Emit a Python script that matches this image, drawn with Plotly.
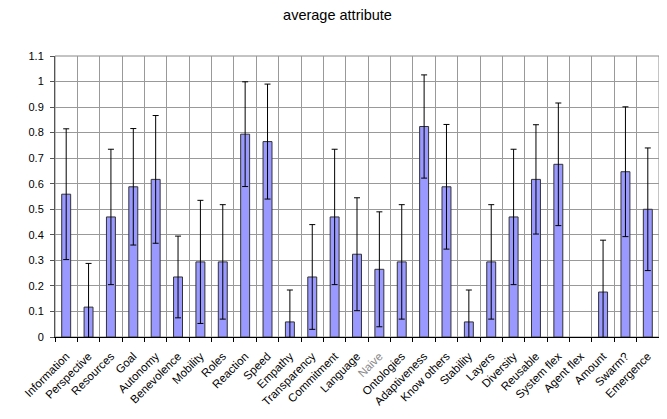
import plotly.graph_objects as go

categories = ["Information", "Perspective", "Resources", "Goal", "Autonomy", "Benevolence",
              "Mobility", "Roles", "Reaction", "Speed", "Empathy", "Transparency",
              "Commitment", "Language", "Naive", "Ontologies", "Adaptiveness", "Know others",
              "Stability", "Layers", "Diversity", "Reusable", "System flex", "Agent flex",
              "Amount", "Swarm?", "Emergence"]

averages = [0.559, 0.117, 0.470, 0.588, 0.617, 0.235, 0.294, 0.294, 0.794, 0.765, 0.059,
            0.235, 0.470, 0.324, 0.265, 0.294, 0.824, 0.588, 0.059, 0.294, 0.470, 0.617,
            0.676, None, 0.176, 0.647, 0.500]

errors = [0.256, 0.171, 0.265, 0.228, 0.250, 0.160, 0.241, 0.224, 0.205, 0.225, 0.125,
          0.205, 0.265, 0.221, 0.225, 0.224, 0.202, 0.244, 0.125, 0.224, 0.265, 0.214,
          0.240, None, 0.203, 0.254, 0.240]

y_ticks = [0, 0.1, 0.2, 0.3, 0.4, 0.5, 0.6, 0.7, 0.8, 0.9, 1, 1.1]
y_tick_labels = ["0", "0.1", "0.2", "0.3", "0.4", "0.5", "0.6", "0.7", "0.8", "0.9", "1", "1.1"]

tick_text = [('<span style="color:#8a8a8a">%s</span>' % c) if c == "Naive" else c for c in categories]

FONT = "Liberation Sans, Arial, sans-serif"

fig = go.Figure()
fig.add_trace(go.Bar(
    x=categories,
    y=averages,
    width=0.4,
    marker=dict(color="#9999FF", line=dict(color="#333333", width=1)),
    error_y=dict(type="data", array=errors, visible=True, color="#000000",
                 thickness=1, width=3),
))

# page body has an 8px default margin, so the figure is sized to fit the window
fig.update_layout(
    width=659, height=411,
    margin=dict(l=47, r=8, t=48, b=82, autoexpand=False),
    paper_bgcolor="white", plot_bgcolor="white",
    title=dict(text="average attribute", x=0.5, xanchor="center",
               y=1 - 1.5 / 411, yanchor="top",
               font=dict(family=FONT, size=14.5, color="#000000")),
    font=dict(family=FONT, size=11, color="#000000"),
    showlegend=False,
    bargap=0.6,
)

fig.update_xaxes(
    type="category",
    tickmode="array", tickvals=categories, ticktext=tick_text,
    tickangle=-45,
    tickson="boundaries",
    ticks="outside", ticklen=4, tickcolor="#000000",
    ticklabelstandoff=7,
    showgrid=True, gridcolor="#999999", gridwidth=1,
    showline=True, linecolor="#000000", linewidth=1,
    automargin=False,
    tickfont=dict(family=FONT, size=11.5),
)

fig.update_yaxes(
    range=[0, 1.1],
    tickmode="array", tickvals=y_ticks, ticktext=y_tick_labels,
    ticks="outside", ticklen=4, tickcolor="#555555",
    ticklabelstandoff=4,
    showgrid=True, gridcolor="#999999", gridwidth=1,
    showline=True, linecolor="#555555", linewidth=1,
    zeroline=False,
    automargin=False,
    tickfont=dict(family=FONT, size=11),
)

fig.update_layout(shapes=[
    dict(type="rect", xref="paper", yref="paper", x0=0, x1=1, y0=0, y1=1,
         line=dict(color="#888888", width=1), layer="below"),
])

fig.write_html("out.html")
